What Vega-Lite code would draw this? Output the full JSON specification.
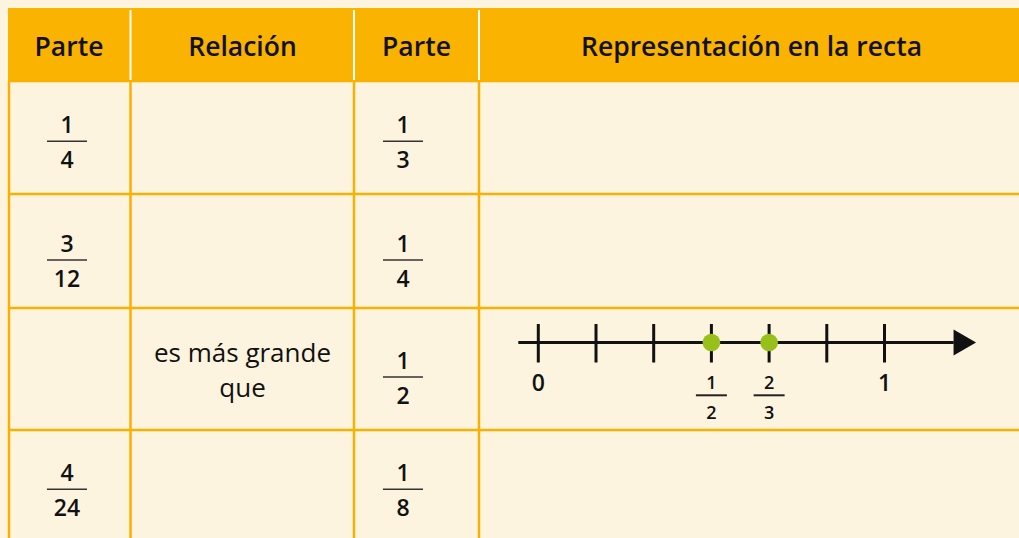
{
  "$schema": "https://vega.github.io/schema/vega-lite/v6.json",
  "width": 1019,
  "height": 538,
  "padding": 0,
  "autosize": {"type": "none"},
  "background": "#FDF4DF",
  "config": {"view": {"stroke": null}, "axis": {"disable": true}, "text": {"font": "Open Sans", "color": "#111111"}},
  "datasets": {
    "header": [{"x": 8, "x2": 1019, "y": 8, "y2": 81}],
    "hlines": [{"x": 8, "x2": 1019, "y": 81}, {"x": 8, "x2": 1019, "y": 194}, {"x": 8, "x2": 1019, "y": 308}, {"x": 8, "x2": 1019, "y": 430}],
    "vlines": [{"x": 9, "y": 81, "y2": 538}, {"x": 130.5, "y": 81, "y2": 538}, {"x": 354, "y": 81, "y2": 538}, {"x": 479, "y": 81, "y2": 538}],
    "hsep": [{"x": 130.5, "y": 10, "y2": 80}, {"x": 354, "y": 10, "y2": 80}, {"x": 479, "y": 10, "y2": 80}],
    "titles": [{"x": 69, "y": 56, "t": "Parte"}, {"x": 242.5, "y": 56, "t": "Relación"}, {"x": 416.5, "y": 56, "t": "Parte"}, {"x": 751.5, "y": 56, "t": "Representación en la recta"}],
    "relation": [{"x": 242.5, "y": 362, "t": "es más grande"}, {"x": 242.5, "y": 397, "t": "que"}],
    "fracs": [
      {"cx": 67, "by": 141.3, "num": "1", "den": "4"},
      {"cx": 403, "by": 141.3, "num": "1", "den": "3"},
      {"cx": 67, "by": 260, "num": "3", "den": "12"},
      {"cx": 403, "by": 260, "num": "1", "den": "4"},
      {"cx": 403, "by": 377, "num": "1", "den": "2"},
      {"cx": 67, "by": 489.3, "num": "4", "den": "24"},
      {"cx": 403, "by": 489.3, "num": "1", "den": "8"}
    ],
    "nline": [{"v": -0.0577, "v2": 1.2}],
    "ticks": [{"v": 0}, {"v": 0.1667}, {"v": 0.3333}, {"v": 0.5}, {"v": 0.6667}, {"v": 0.8333}, {"v": 1}],
    "arrow": [{"v": 1.232}],
    "marked": [{"v": 0.5, "num": "1", "den": "2"}, {"v": 0.6667, "num": "2", "den": "3"}],
    "ends": [{"v": 0, "t": "0"}, {"v": 1, "t": "1"}]
  },
  "resolve": {"scale": {"x": "independent"}},
  "layer": [
    {
      "layer": [
        {
          "data": {"name": "header"},
          "mark": {"type": "rect", "color": "#F9B300"},
          "encoding": {
            "x": {"field": "x", "type": "quantitative", "scale": {"domain": [0, 1019], "range": [0, 1019], "nice": false, "zero": false}},
            "x2": {"field": "x2"},
            "y": {"field": "y", "type": "quantitative", "scale": {"domain": [0, 538], "range": [0, 538], "nice": false, "zero": false}},
            "y2": {"field": "y2"}
          }
        },
        {
          "data": {"name": "hlines"},
          "mark": {"type": "rule", "color": "#F9B000", "strokeWidth": 2.5},
          "encoding": {
            "x": {"field": "x", "type": "quantitative", "scale": {"domain": [0, 1019], "range": [0, 1019], "nice": false, "zero": false}},
            "x2": {"field": "x2"},
            "y": {"field": "y", "type": "quantitative", "scale": {"domain": [0, 538], "range": [0, 538], "nice": false, "zero": false}}
          }
        },
        {
          "data": {"name": "vlines"},
          "mark": {"type": "rule", "color": "#F9B000", "strokeWidth": 2.5},
          "encoding": {
            "x": {"field": "x", "type": "quantitative", "scale": {"domain": [0, 1019], "range": [0, 1019], "nice": false, "zero": false}},
            "y": {"field": "y", "type": "quantitative", "scale": {"domain": [0, 538], "range": [0, 538], "nice": false, "zero": false}},
            "y2": {"field": "y2"}
          }
        },
        {
          "data": {"name": "hsep"},
          "mark": {"type": "rule", "color": "#FFFFFF", "strokeWidth": 2},
          "encoding": {
            "x": {"field": "x", "type": "quantitative", "scale": {"domain": [0, 1019], "range": [0, 1019], "nice": false, "zero": false}},
            "y": {"field": "y", "type": "quantitative", "scale": {"domain": [0, 538], "range": [0, 538], "nice": false, "zero": false}},
            "y2": {"field": "y2"}
          }
        },
        {
          "data": {"name": "titles"},
          "mark": {"type": "text", "fontSize": 26.5, "fontWeight": 600, "baseline": "alphabetic", "align": "center"},
          "encoding": {
            "x": {"field": "x", "type": "quantitative", "scale": {"domain": [0, 1019], "range": [0, 1019], "nice": false, "zero": false}},
            "y": {"field": "y", "type": "quantitative", "scale": {"domain": [0, 538], "range": [0, 538], "nice": false, "zero": false}},
            "text": {"field": "t"}
          }
        },
        {
          "data": {"name": "relation"},
          "mark": {"type": "text", "fontSize": 26, "baseline": "alphabetic", "align": "center"},
          "encoding": {
            "x": {"field": "x", "type": "quantitative", "scale": {"domain": [0, 1019], "range": [0, 1019], "nice": false, "zero": false}},
            "y": {"field": "y", "type": "quantitative", "scale": {"domain": [0, 538], "range": [0, 538], "nice": false, "zero": false}},
            "text": {"field": "t"}
          }
        },
        {
          "data": {"name": "fracs"},
          "mark": {"type": "text", "fontSize": 23, "fontWeight": 600, "baseline": "alphabetic", "align": "center", "dy": -8},
          "encoding": {
            "x": {"field": "cx", "type": "quantitative", "scale": {"domain": [0, 1019], "range": [0, 1019], "nice": false, "zero": false}},
            "y": {"field": "by", "type": "quantitative", "scale": {"domain": [0, 538], "range": [0, 538], "nice": false, "zero": false}},
            "text": {"field": "num"}
          }
        },
        {
          "data": {"name": "fracs"},
          "mark": {"type": "text", "fontSize": 23, "fontWeight": 600, "baseline": "alphabetic", "align": "center", "dy": 27},
          "encoding": {
            "x": {"field": "cx", "type": "quantitative", "scale": {"domain": [0, 1019], "range": [0, 1019], "nice": false, "zero": false}},
            "y": {"field": "by", "type": "quantitative", "scale": {"domain": [0, 538], "range": [0, 538], "nice": false, "zero": false}},
            "text": {"field": "den"}
          }
        },
        {
          "data": {"name": "fracs"},
          "mark": {"type": "rule", "color": "#333333", "strokeWidth": 1.5, "xOffset": -20, "x2Offset": 20},
          "encoding": {
            "x": {"field": "cx", "type": "quantitative", "scale": {"domain": [0, 1019], "range": [0, 1019], "nice": false, "zero": false}},
            "x2": {"field": "cx"},
            "y": {"field": "by", "type": "quantitative", "scale": {"domain": [0, 538], "range": [0, 538], "nice": false, "zero": false}}
          }
        }
      ]
    },
    {
      "layer": [
        {
          "data": {"name": "nline"},
          "mark": {"type": "rule", "color": "#111111", "strokeWidth": 3},
          "encoding": {
            "x": {"field": "v", "type": "quantitative", "scale": {"domain": [0, 1], "range": [538.3, 884.5], "nice": false, "zero": false}},
            "x2": {"field": "v2"},
            "y": {"datum": 342.5, "type": "quantitative", "scale": {"domain": [0, 538], "range": [0, 538], "nice": false, "zero": false}}
          }
        },
        {
          "data": {"name": "ticks"},
          "mark": {"type": "rule", "color": "#111111", "strokeWidth": 3},
          "encoding": {
            "x": {"field": "v", "type": "quantitative", "scale": {"domain": [0, 1], "range": [538.3, 884.5], "nice": false, "zero": false}},
            "y": {"datum": 324, "type": "quantitative", "scale": {"domain": [0, 538], "range": [0, 538], "nice": false, "zero": false}},
            "y2": {"datum": 362.5}
          }
        },
        {
          "data": {"name": "arrow"},
          "mark": {"type": "point", "shape": "triangle-right", "size": 676, "filled": true, "color": "#111111", "opacity": 1},
          "encoding": {
            "x": {"field": "v", "type": "quantitative", "scale": {"domain": [0, 1], "range": [538.3, 884.5], "nice": false, "zero": false}},
            "y": {"datum": 342.5, "type": "quantitative", "scale": {"domain": [0, 538], "range": [0, 538], "nice": false, "zero": false}}
          }
        },
        {
          "data": {"name": "marked"},
          "mark": {"type": "point", "shape": "circle", "size": 314, "filled": true, "color": "#97C11A", "opacity": 1},
          "encoding": {
            "x": {"field": "v", "type": "quantitative", "scale": {"domain": [0, 1], "range": [538.3, 884.5], "nice": false, "zero": false}},
            "y": {"datum": 342.5, "type": "quantitative", "scale": {"domain": [0, 538], "range": [0, 538], "nice": false, "zero": false}}
          }
        },
        {
          "data": {"name": "ends"},
          "mark": {"type": "text", "fontSize": 23, "fontWeight": 600, "baseline": "alphabetic", "align": "center"},
          "encoding": {
            "x": {"field": "v", "type": "quantitative", "scale": {"domain": [0, 1], "range": [538.3, 884.5], "nice": false, "zero": false}},
            "y": {"datum": 391, "type": "quantitative", "scale": {"domain": [0, 538], "range": [0, 538], "nice": false, "zero": false}},
            "text": {"field": "t"}
          }
        },
        {
          "data": {"name": "marked"},
          "mark": {"type": "text", "fontSize": 18, "fontWeight": 600, "baseline": "alphabetic", "align": "center", "dy": -6.3},
          "encoding": {
            "x": {"field": "v", "type": "quantitative", "scale": {"domain": [0, 1], "range": [538.3, 884.5], "nice": false, "zero": false}},
            "y": {"datum": 395.3, "type": "quantitative", "scale": {"domain": [0, 538], "range": [0, 538], "nice": false, "zero": false}},
            "text": {"field": "num"}
          }
        },
        {
          "data": {"name": "marked"},
          "mark": {"type": "text", "fontSize": 18, "fontWeight": 600, "baseline": "alphabetic", "align": "center", "dy": 23.7},
          "encoding": {
            "x": {"field": "v", "type": "quantitative", "scale": {"domain": [0, 1], "range": [538.3, 884.5], "nice": false, "zero": false}},
            "y": {"datum": 395.3, "type": "quantitative", "scale": {"domain": [0, 538], "range": [0, 538], "nice": false, "zero": false}},
            "text": {"field": "den"}
          }
        },
        {
          "data": {"name": "marked"},
          "mark": {"type": "rule", "color": "#222222", "strokeWidth": 2, "xOffset": -15.5, "x2Offset": 15.5},
          "encoding": {
            "x": {"field": "v", "type": "quantitative", "scale": {"domain": [0, 1], "range": [538.3, 884.5], "nice": false, "zero": false}},
            "x2": {"field": "v"},
            "y": {"datum": 395.3, "type": "quantitative", "scale": {"domain": [0, 538], "range": [0, 538], "nice": false, "zero": false}}
          }
        }
      ]
    }
  ]
}
